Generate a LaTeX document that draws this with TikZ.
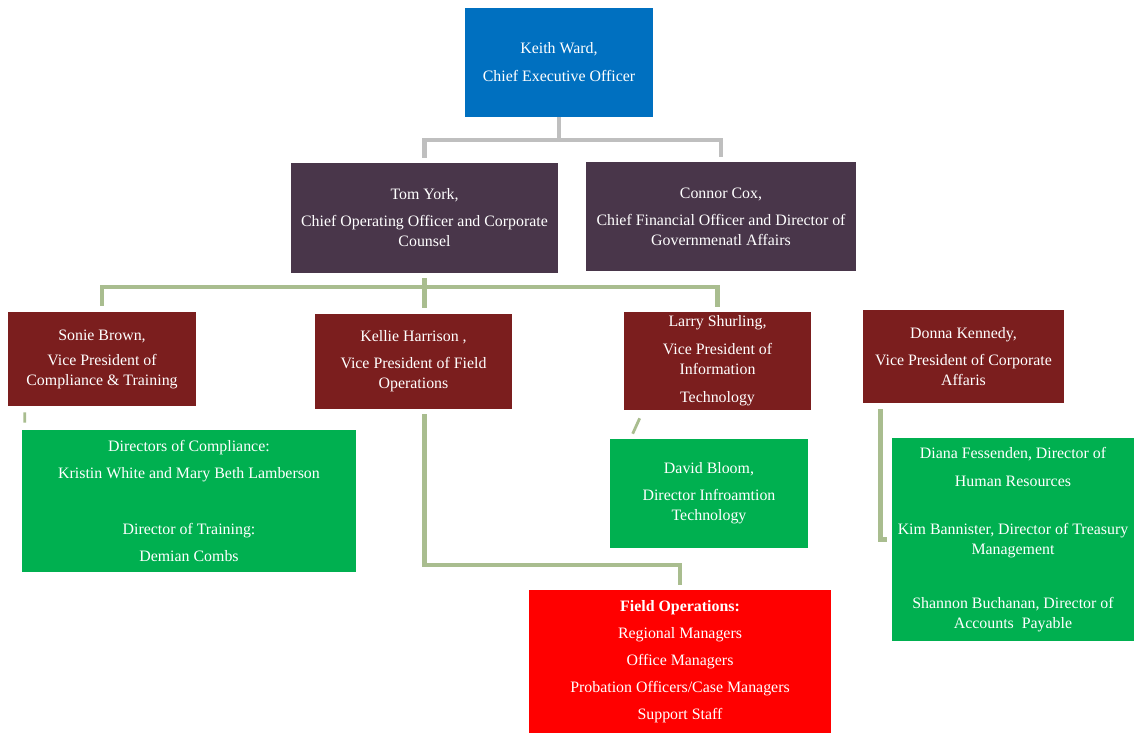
\documentclass[tikz,border=0pt]{standalone}
\usepackage{fontspec}
\setmainfont{Liberation Serif}
\definecolor{ceoblue}{HTML}{0070C0}
\definecolor{topplum}{HTML}{49364A}
\definecolor{vpred}{HTML}{7B1E1E}
\definecolor{dirgreen}{HTML}{00B050}
\definecolor{fieldred}{HTML}{FF0000}
\definecolor{conngray}{HTML}{BFBFBF}
\definecolor{conngreen}{HTML}{A9BD8F}
\newcommand\boxfont{\fontsize{11.3}{14.2}\selectfont}
\tikzset{
  orgbox/.style={rectangle, inner sep=0pt, text=white, align=center, font=\boxfont},
  grayconn/.style={draw=conngray, line width=3.5pt},
  greenconn/.style={draw=conngreen, line width=3.5pt},
  stubconn/.style={draw=conngreen, line width=2pt}
}
\begin{document}
\begin{tikzpicture}[x=0.025cm, y=-0.025cm, line join=miter]
  \useasboundingbox[fill=white] (0,0) rectangle (1134,733);
  % boxes
  \node[orgbox, fill=ceoblue, minimum width=4.70cm, minimum height=2.725cm] (ceo) at (559,62.5)
    {Keith Ward,\\[5.7pt] Chief Executive Officer};
  \node[orgbox, fill=topplum, minimum width=6.675cm, minimum height=2.75cm] (tom) at (424.5,218)
    {Tom York,\\[5pt] Chief Operating Officer and Corporate\\ Counsel};
  \node[orgbox, fill=topplum, minimum width=6.75cm, minimum height=2.725cm] (connor) at (721,216.5)
    {Connor Cox,\\[5pt] Chief Financial Officer and Director of\\ Governmenatl Affairs};
  \node[orgbox, fill=vpred, minimum width=4.70cm, minimum height=2.35cm] (sonie) at (102,359)
    {Sonie Brown,\\[3.6pt] Vice President of\\ Compliance \& Training};
  \node[orgbox, fill=vpred, minimum width=4.925cm, minimum height=2.375cm] (kellie) at (413.5,361.5)
    {Kellie Harrison ,\\[5pt] Vice President of Field\\ Operations};
  \node[orgbox, fill=vpred, minimum width=4.675cm, minimum height=2.45cm] (larry) at (717.5,361)
    {Larry Shurling,\\[5.7pt] Vice President of\\ Information\\[5.7pt] Technology};
  \node[orgbox, fill=vpred, minimum width=5.025cm, minimum height=2.325cm] (donna) at (963.5,356.5)
    {Donna Kennedy,\\[5pt] Vice President of Corporate\\ Affaris};
  \node[orgbox, fill=dirgreen, minimum width=8.35cm, minimum height=3.55cm] (dircomp) at (189,501)
    {Directors of Compliance:\\[5pt] Kristin White and Mary Beth Lamberson\\[25pt]
     Director of Training:\\[5pt] Demian Combs};
  \node[orgbox, fill=dirgreen, minimum width=4.95cm, minimum height=2.725cm] (david) at (709,493.5)
    {David Bloom,\\[5pt] Director Infroamtion\\ Technology};
  \node[orgbox, fill=dirgreen, minimum width=6.05cm, minimum height=5.075cm] (diana) at (1013,539.5)
    {Diana Fessenden, Director of\\[5.7pt] Human Resources\\[20pt]
     Kim Bannister, Director of Treasury\\ Management\\[24pt]
     Shannon Buchanan, Director of\\ Accounts\ \ Payable};
  \node[orgbox, fill=fieldred, minimum width=7.55cm, minimum height=3.575cm] (field) at (680,661.5)
    {\textbf{Field Operations:}\\[5pt] Regional Managers\\[5pt] Office Managers\\[5pt]
     Probation Officers/Case Managers\\[5pt] Support Staff};
  % bends
  \coordinate (gbar) at (0,140);
  \coordinate (vpbar) at (0,287);
  \coordinate (fbar) at (0,565);
  % connectors
  \draw[grayconn] (ceo.south) -- (ceo.south |- gbar);
  \draw[grayconn] ([shift={(0,-5)}]tom.north) |- (connor.north |- gbar) -- ([shift={(0,-5)}]connor.north);
  \path (tom.south |- kellie.north) ++(0,-6) coordinate (k0);
  \draw[greenconn] ([shift={(0,5)}]tom.south) -- (k0);
  \draw[greenconn] ([shift={(0,-6)}]sonie.north) |- (larry.north |- vpbar) -- ([shift={(0,-5)}]larry.north);
  \path (tom.south |- kellie.south) ++(0,5) coordinate (k1);
  \draw[greenconn] (k1) |- (field.north |- fbar) -- ([shift={(0,-5)}]field.north);
  \draw[stubconn] ([shift={(17,6)}]sonie.south west) -- ([shift={(3,-7)}]dircomp.north west);
  \draw[stubconn] ([shift={(16,8)}]larry.south west) -- ([shift={(23,-5)}]david.north west);
  \draw[greenconn] ([shift={(18,6)}]donna.south west) |- ([shift={(-5,0)}]diana.west);
\end{tikzpicture}
\end{document}
